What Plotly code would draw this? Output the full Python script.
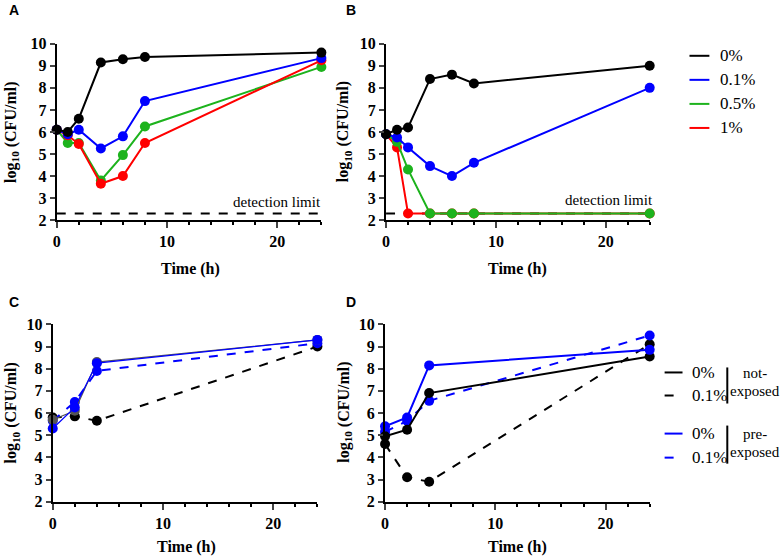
import plotly.graph_objects as go

# time points (h)
timeAB = [0, 1, 2, 4, 6, 8, 24]
timeCD = [0, 2, 4, 24]
detectionLimit = 2.3

# panel A, log10 CFU/ml per concentration
a_0 = [6.1, 6.0, 6.6, 9.15, 9.3, 9.4, 9.6]
a_01 = [6.1, 5.9, 6.1, 5.25, 5.8, 7.4, 9.35]
a_05 = [6.1, 5.5, 5.5, 3.8, 4.95, 6.25, 8.95]
a_1 = [6.1, 5.85, 5.45, 3.65, 4.0, 5.5, 9.25]

# panel B
b_0 = [5.9, 6.1, 6.2, 8.4, 8.6, 8.2, 9.0]
b_01 = [5.9, 5.75, 5.3, 4.45, 4.0, 4.6, 8.0]
b_05 = [5.9, 5.55, 4.3, 2.3, 2.3, 2.3, 2.3]
b_1 = [5.9, 5.3, 2.3, 2.3, 2.3, 2.3, 2.3]

# panel C (not-exposed / pre-exposed)
c_not_0 = [5.7, 6.1, 8.3, 9.3]
c_not_01 = [5.8, 5.85, 5.65, 9.0]
c_pre_0 = [5.3, 6.25, 8.25, 9.3]
c_pre_01 = [5.65, 6.5, 7.9, 9.15]

# panel D
d_not_0 = [4.95, 5.25, 6.9, 8.55]
d_not_01 = [4.6, 3.1, 2.9, 9.1]
d_pre_0 = [5.4, 5.8, 8.15, 8.85]
d_pre_01 = [5.15, 5.65, 6.55, 9.5]

BLACK = "#000000"
BLUE = "#0000ff"
GREEN = "#1db31d"
RED = "#ff0000"
SERIF = "Liberation Serif"
SANS = "Liberation Sans"

W, H = 784, 567
# the photographed page comes out a little squeezed vertically; undo it
Y_OFF, Y_SCALE = 8.3, 0.968


def px(x):
    # window pixel -> paper fraction
    return x / W


def py(y):
    return 1 - ((y - Y_OFF) / Y_SCALE) / H


fig = go.Figure()


def addLine(x, y, color, axis, dash="solid", width=2, marker=True):
    fig.add_trace(go.Scatter(
        x=x, y=y,
        mode="lines+markers" if marker else "lines",
        line=dict(color=color, width=width, dash=dash),
        marker=dict(color=color, size=10),
        xaxis="x" + axis, yaxis="y" + axis,
        cliponaxis=False, showlegend=False, hoverinfo="x+y",
    ))


# A
addLine([0, 24], [detectionLimit] * 2, BLACK, "", dash="dash", marker=False)
addLine(timeAB, a_05, GREEN, "")
addLine(timeAB, a_1, RED, "")
addLine(timeAB, a_01, BLUE, "")
addLine(timeAB, a_0, BLACK, "")
# B
addLine([0, 24], [detectionLimit] * 2, BLACK, "2", dash="dash", marker=False)
addLine(timeAB, b_1, RED, "2")
addLine(timeAB, b_05, GREEN, "2")
addLine(timeAB, b_01, BLUE, "2")
addLine(timeAB, b_0, BLACK, "2")
# C
addLine(timeCD, c_not_01, BLACK, "3", dash="dash")
addLine(timeCD, c_pre_01, BLUE, "3", dash="dash")
addLine(timeCD, c_not_0, "#555555", "3", width=1.2)
addLine(timeCD, c_pre_0, BLUE, "3", width=1.2)
# D
addLine(timeCD, d_not_01, BLACK, "4", dash="dash")
addLine(timeCD, d_pre_01, BLUE, "4", dash="dash")
addLine(timeCD, d_not_0, BLACK, "4")
addLine(timeCD, d_pre_0, BLUE, "4")

# panel geometry in window pixels: (x0, x1, ytop, ybottom)
panels = {
    "": (53, 319, 44, 220),
    "2": (384, 649, 44, 220),
    "3": (49, 315, 324, 501),
    "4": (383, 649, 324, 501),
}

layout = dict(
    width=W, height=H,
    margin=dict(l=0, r=0, t=0, b=0),
    paper_bgcolor="white", plot_bgcolor="white",
    font=dict(family=SERIF, color=BLACK),
)
for k, (x0, x1, yt, yb) in panels.items():
    layout["xaxis" + k] = dict(
        domain=[px(x0), px(x1)], range=[0, 24], anchor="y" + k,
        tickvals=[0, 10, 20], ticks="outside", ticklen=6, tickwidth=2,
        showline=True, linewidth=2, linecolor=BLACK, showgrid=False, zeroline=False,
        tickfont=dict(family=SERIF, size=16, color=BLACK, weight="bold"),
        minor=dict(dtick=2, ticks="outside", ticklen=3, tickwidth=1.5, tickcolor=BLACK, showgrid=False),
        fixedrange=True,
    )
    layout["yaxis" + k] = dict(
        domain=[py(yb), py(yt)], range=[2, 10], anchor="x" + k,
        dtick=1, ticks="outside", ticklen=5, tickwidth=2,
        showline=True, linewidth=2, linecolor=BLACK, showgrid=False, zeroline=False,
        tickfont=dict(family=SERIF, size=16, color=BLACK, weight="bold"),
        fixedrange=True,
    )

fig.update_layout(**layout)

annotations = []
shapes = []


def note(text, x, y, size=15, family=SERIF, xanchor="center", angle=0, yanchor="middle"):
    annotations.append(dict(
        text=text, x=px(x), y=py(y), xref="paper", yref="paper",
        showarrow=False, xanchor=xanchor, yanchor=yanchor, textangle=angle,
        font=dict(family=family, size=size, color=BLACK),
    ))


# panel letters
for letter, x, y in [("A", 3, 10), ("B", 342, 10), ("C", 3, 302), ("D", 342, 302)]:
    note("<b>" + letter + "</b>", x, y, size=14, family=SANS, xanchor="left")

# axis titles
for x, y in [(8, 132), (342, 132), (8, 412), (342, 412)]:
    note("<b>log<sub>10</sub> (CFU/ml)</b>", x, y, size=16, angle=-90)
for x, y in [(187, 269), (516, 269), (183, 546), (516, 546)]:
    note("<b>Time (h)</b>", x, y, size=16)

# detection limit labels
note("detection limit", 321, 202, xanchor="right", size=15)
note("detection limit", 654, 200, xanchor="right", size=15)

# legend for A/B
legendB = [("0%", BLACK), ("0.1%", BLUE), ("0.5%", GREEN), ("1%", RED)]
for i, (label, color) in enumerate(legendB):
    y = 56 + i * 24
    shapes.append(dict(type="line", xref="paper", yref="paper",
                       x0=px(689), x1=px(709), y0=py(y), y1=py(y),
                       line=dict(color=color, width=2)))
    note(label, 718, y, xanchor="left", size=17)

# legend for C/D
legendD = [("0%", BLACK, "solid", 372), ("0.1%", BLACK, "dash", 395),
           ("0%", BLUE, "solid", 433), ("0.1%", BLUE, "dash", 457)]
for label, color, dash, y in legendD:
    shapes.append(dict(type="line", xref="paper", yref="paper",
                       x0=px(664), x1=px(682), y0=py(y), y1=py(y),
                       line=dict(color=color, width=2, dash=dash)))
    note(label, 690, y, xanchor="left", size=17)
for y0, y1 in [(367, 403), (425, 463)]:
    shapes.append(dict(type="line", xref="paper", yref="paper",
                       x0=px(727), x1=px(727), y0=py(y0), y1=py(y1),
                       line=dict(color=BLACK, width=2)))
note("not-", 755, 373, size=15)
note("exposed", 755, 391, size=15)
note("pre-", 755, 433, size=15)
note("exposed", 755, 451, size=15)

fig.update_layout(annotations=annotations, shapes=shapes)

# pin the graph to the window's top-left corner, no page margin or scrollbars
pin = ("document.body.style.margin='0';"
       "document.body.style.overflow='hidden';"
       "var gd=document.getElementById('{plot_id}');"
       "gd.style.position='fixed';gd.style.left='0px';gd.style.top='0px';")
fig.write_html("out.html", post_script=pin, config={"displayModeBar": False})
